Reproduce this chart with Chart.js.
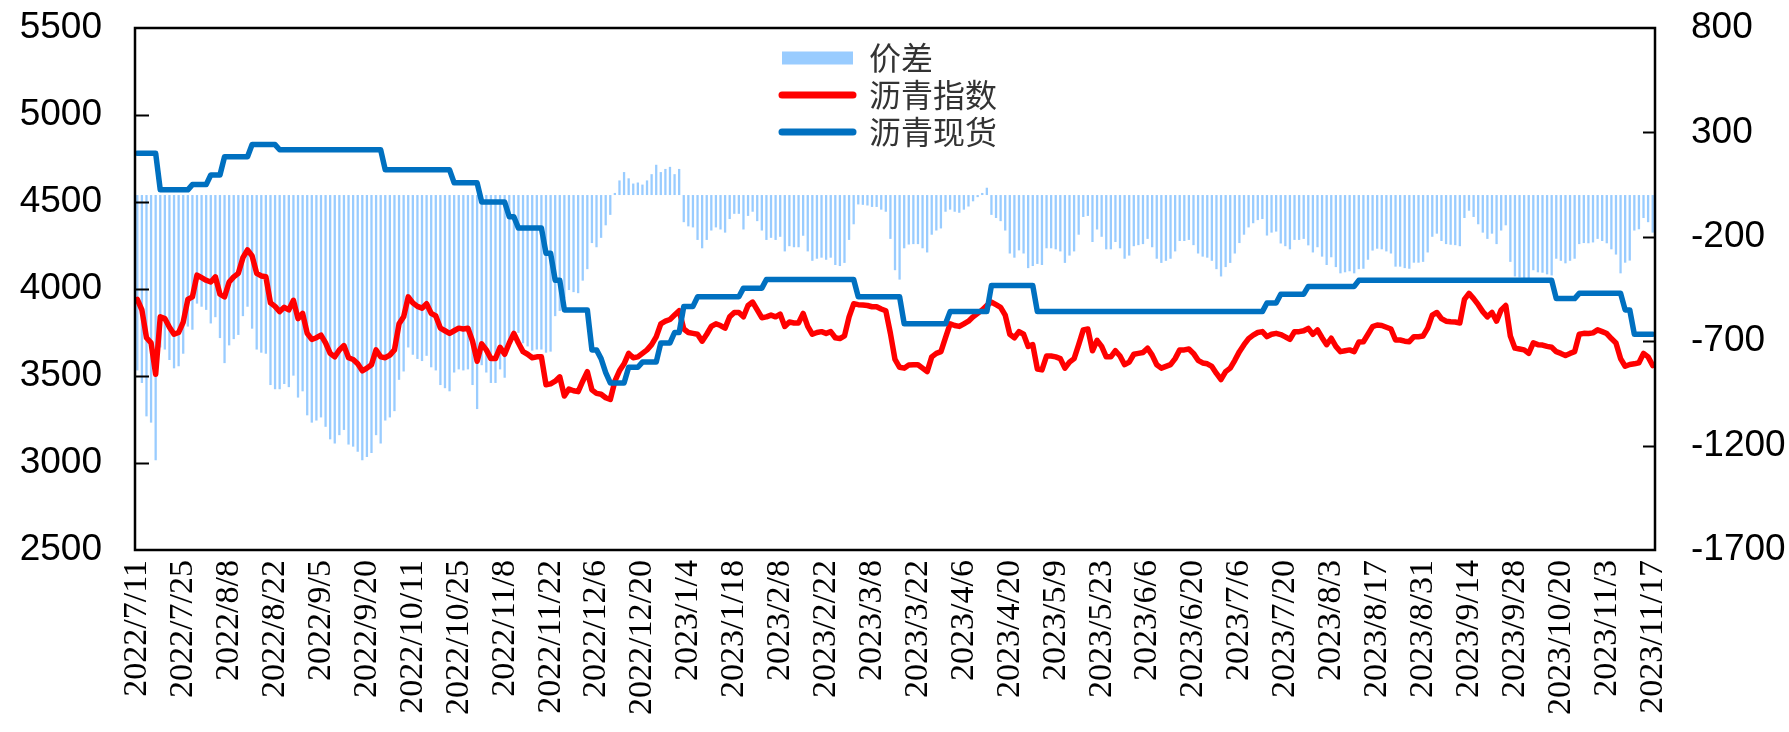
<!DOCTYPE html>
<html>
<head>
<meta charset="utf-8">
<script src="https://cdn.jsdelivr.net/npm/chart.js@4.4.0/dist/chart.umd.min.js"></script>
<style>
html,body{margin:0;padding:0;background:#fff;}
#wrap{width:1789px;height:732px;position:relative;}
</style>
</head>
<body>
<div id="wrap"><canvas id="c"></canvas></div>
<script>
// Tick labels: one every 10 trading days
const dateTicks = ['2022/7/11','2022/7/25','2022/8/8','2022/8/22','2022/9/5','2022/9/20','2022/10/11','2022/10/25','2022/11/8','2022/11/22','2022/12/6','2022/12/20','2023/1/4','2023/1/18','2023/2/8','2023/2/22','2023/3/8','2023/3/22','2023/4/6','2023/4/20','2023/5/9','2023/5/23','2023/6/6','2023/6/20','2023/7/6','2023/7/20','2023/8/3','2023/8/17','2023/8/31','2023/9/14','2023/9/28','2023/10/20','2023/11/3','2023/11/17'];
const TICK_EVERY = 10; // trading days between labelled ticks

const seriesNames = ['价差', '沥青指数', '沥青现货'];

// 沥青指数 (left axis), one value per trading day
const indexPrice = [
3940,3880,3720,3690,3510,3840,3830,3780,3740,3750,
3810,3940,3955,4080,4065,4050,4040,4070,3970,3955,
4040,4070,4090,4180,4225,4190,4090,4075,4070,3920,
3900,3870,3895,3880,3935,3830,3860,3745,3710,3720,
3735,3690,3630,3610,3650,3675,3605,3595,3570,3530,
3545,3565,3650,3610,3605,3620,3650,3800,3840,3955,
3920,3900,3890,3915,3860,3845,3775,3760,3745,3760,
3775,3770,3775,3700,3585,3685,3650,3600,3600,3665,
3625,3690,3745,3690,3640,3625,3605,3610,3610,3450,
3455,3470,3495,3385,3425,3415,3410,3470,3525,3420,
3400,3395,3375,3365,3470,3530,3570,3630,3605,3610,
3630,3650,3680,3725,3800,3815,3825,3850,3875,3770,
3750,3745,3740,3700,3740,3785,3800,3790,3775,3840,
3865,3865,3840,3905,3925,3880,3835,3840,3850,3840,
3855,3785,3810,3805,3805,3860,3785,3740,3750,3755,
3745,3755,3720,3715,3730,3840,3915,3910,3908,3905,
3898,3898,3885,3875,3745,3595,3550,3545,3563,3565,
3565,3545,3525,3610,3630,3640,3720,3800,3790,3785,
3800,3815,3840,3860,3880,3905,3925,3910,3895,3850,
3740,3720,3755,3740,3670,3680,3540,3535,3615,3615,
3610,3600,3545,3580,3600,3680,3765,3770,3645,3705,
3670,3610,3610,3645,3615,3565,3580,3625,3630,3635,
3660,3620,3565,3545,3555,3565,3600,3650,3650,3655,
3630,3590,3575,3570,3555,3515,3480,3525,3545,3590,
3640,3680,3715,3735,3750,3755,3726,3740,3745,3738,
3725,3710,3755,3755,3760,3774,3740,3765,3720,3680,
3717,3670,3640,3645,3650,3640,3695,3697,3740,3784,
3793,3790,3780,3770,3707,3707,3700,3697,3726,3726,
3730,3775,3850,3865,3830,3815,3812,3810,3805,3940,
3975,3945,3910,3870,3840,3865,3815,3880,3905,3730,
3660,3655,3650,3630,3690,3680,3678,3670,3665,3640,
3630,3618,3630,3640,3740,3745,3744,3748,3765,3755,
3744,3715,3690,3600,3556,3566,3570,3576,3630,3610,
3560
];

// 沥青现货 (left axis)
const spotPrice = [
4780,4780,4780,4780,4780,4570,4570,4570,4570,4570,
4570,4570,4600,4600,4600,4600,4655,4655,4655,4760,
4760,4760,4760,4760,4760,4830,4830,4830,4830,4830,
4830,4800,4800,4800,4800,4800,4800,4800,4800,4800,
4800,4800,4800,4800,4800,4800,4800,4800,4800,4800,
4800,4800,4800,4800,4685,4685,4685,4685,4685,4685,
4685,4685,4685,4685,4685,4685,4685,4685,4685,4610,
4610,4610,4610,4610,4610,4500,4500,4500,4500,4500,
4500,4415,4415,4350,4350,4350,4350,4350,4350,4205,
4205,4050,4050,3880,3880,3880,3880,3880,3880,3650,
3650,3600,3520,3460,3460,3460,3460,3550,3550,3550,
3580,3580,3580,3580,3690,3690,3690,3750,3750,3900,
3900,3900,3955,3955,3955,3955,3955,3955,3955,3955,
3955,3955,4005,4005,4005,4005,4005,4055,4055,4055,
4055,4055,4055,4055,4055,4055,4055,4055,4055,4055,
4055,4055,4055,4055,4055,4055,4055,3955,3955,3955,
3955,3955,3955,3955,3955,3955,3955,3800,3800,3800,
3800,3800,3800,3800,3800,3800,3800,3870,3870,3870,
3870,3870,3870,3870,3870,3870,4020,4020,4020,4020,
4020,4020,4020,4020,4020,4020,3870,3870,3870,3870,
3870,3870,3870,3870,3870,3870,3870,3870,3870,3870,
3870,3870,3870,3870,3870,3870,3870,3870,3870,3870,
3870,3870,3870,3870,3870,3870,3870,3870,3870,3870,
3870,3870,3870,3870,3870,3870,3870,3870,3870,3870,
3870,3870,3870,3870,3870,3870,3920,3920,3920,3970,
3970,3970,3970,3970,3970,4015,4015,4015,4015,4015,
4015,4015,4015,4015,4015,4015,4050,4050,4050,4050,
4050,4050,4050,4050,4050,4050,4050,4050,4050,4050,
4050,4050,4050,4050,4050,4050,4050,4050,4050,4050,
4050,4050,4050,4050,4050,4050,4050,4050,4050,4050,
4050,4050,4050,4050,4050,4050,4050,4050,4050,3945,
3945,3945,3945,3945,3975,3975,3975,3975,3975,3975,
3975,3975,3975,3975,3880,3880,3740,3740,3740,3740,
3740
];

// 价差 (right axis)
const spread = [
-840,-900,-1060,-1090,-1270,-730,-740,-790,-830,-820,
-760,-630,-645,-520,-535,-550,-615,-585,-685,-805,
-720,-690,-670,-580,-535,-640,-740,-755,-760,-910,
-930,-930,-905,-920,-865,-970,-940,-1055,-1090,-1080,
-1065,-1110,-1170,-1190,-1150,-1125,-1195,-1205,-1230,-1270,
-1255,-1235,-1150,-1190,-1080,-1065,-1035,-885,-845,-730,
-765,-785,-795,-770,-825,-840,-910,-925,-940,-850,
-835,-840,-835,-910,-1025,-815,-850,-900,-900,-835,
-875,-725,-670,-660,-710,-725,-745,-740,-740,-755,
-750,-580,-555,-495,-455,-465,-470,-410,-355,-230,
-250,-205,-145,-95,10,70,110,80,55,60,
50,70,100,145,110,125,135,100,125,-130,
-150,-155,-215,-255,-215,-170,-155,-165,-180,-115,
-90,-90,-165,-100,-80,-125,-170,-215,-205,-215,
-200,-270,-245,-250,-250,-195,-270,-315,-305,-300,
-310,-300,-335,-340,-325,-215,-140,-45,-47,-50,
-57,-57,-70,-80,-210,-360,-405,-255,-237,-235,
-235,-255,-275,-190,-170,-160,-80,-70,-80,-85,
-70,-55,-30,-10,10,35,-95,-110,-125,-170,
-280,-300,-265,-280,-350,-340,-330,-335,-255,-255,
-260,-270,-325,-290,-270,-190,-105,-100,-225,-165,
-200,-260,-260,-225,-255,-305,-290,-245,-240,-235,
-210,-250,-305,-325,-315,-305,-270,-220,-220,-215,
-240,-280,-295,-300,-315,-355,-390,-345,-325,-280,
-230,-190,-155,-135,-120,-115,-194,-180,-175,-232,
-245,-260,-215,-215,-210,-241,-275,-250,-295,-335,
-298,-345,-375,-370,-365,-375,-355,-353,-310,-266,
-257,-260,-270,-280,-343,-343,-350,-353,-324,-324,
-320,-275,-200,-185,-220,-235,-238,-240,-245,-110,
-75,-105,-140,-180,-210,-185,-235,-170,-145,-320,
-390,-395,-400,-420,-360,-370,-372,-380,-385,-305,
-315,-327,-315,-305,-235,-230,-231,-227,-210,-220,
-231,-260,-285,-375,-324,-314,-170,-164,-110,-130,
-180
];

const COLORS = { spread: '#99CCFF', index: '#FF0000', spot: '#0070C0' };

const toXY = arr => arr.map((v, i) => ({ x: i, y: v }));

// Frame around plot area and inward tick marks on both value axes
const frameAndTicks = {
  id: 'frameAndTicks',
  afterDraw(chart) {
    const { ctx, chartArea: a, scales } = chart;
    ctx.save();
    ctx.strokeStyle = '#000';
    ctx.lineWidth = 2;
    scales.y.ticks.forEach(t => {
      if (t.value <= scales.y.min || t.value >= scales.y.max) return;
      const p = Math.round(scales.y.getPixelForValue(t.value)) + 0.5;
      ctx.beginPath(); ctx.moveTo(a.left, p); ctx.lineTo(a.left + 14, p); ctx.stroke();
    });
    scales.y1.ticks.forEach(t => {
      if (t.value <= scales.y1.min || t.value >= scales.y1.max) return;
      const p = Math.round(scales.y1.getPixelForValue(t.value)) + 0.5;
      ctx.beginPath(); ctx.moveTo(a.right - 12, p); ctx.lineTo(a.right, p); ctx.stroke();
    });
    ctx.lineWidth = 2.5;
    ctx.strokeRect(a.left, a.top, a.right - a.left, a.bottom - a.top);
    ctx.restore();
  }
};

// Place the legend block inside the plot area, near the upper middle
const legendPlacer = {
  id: 'legendPlacer',
  beforeDraw(chart) {
    const lg = chart.legend;
    if (!lg) return;
    const w = lg.width;
    lg.left = 777; lg.right = 777 + w;
    lg.top = 37; lg.bottom = 37 + 200;
  }
};

const valueTickFont = { family: '"Liberation Sans", Arial, sans-serif', size: 37 };
const plainNumber = (v) => String(v);

new Chart(document.getElementById('c'), {
  type: 'bar',
  data: {
    datasets: [
      {
        type: 'line', label: seriesNames[2], data: toXY(spotPrice), yAxisID: 'y',
        borderColor: COLORS.spot, backgroundColor: COLORS.spot, borderWidth: 5.5,
        pointRadius: 0, tension: 0, borderJoinStyle: 'round', borderCapStyle: 'round'
      },
      {
        type: 'line', label: seriesNames[1], data: toXY(indexPrice), yAxisID: 'y',
        borderColor: COLORS.index, backgroundColor: COLORS.index, borderWidth: 5.5,
        pointRadius: 0, tension: 0, borderJoinStyle: 'round', borderCapStyle: 'round'
      },
      {
        type: 'bar', label: seriesNames[0], data: toXY(spread), yAxisID: 'y1',
        backgroundColor: COLORS.spread, borderWidth: 0,
        barPercentage: 0.5, categoryPercentage: 1.0
      }
    ]
  },
  options: {
    responsive: true,
    maintainAspectRatio: false,
    animation: false,
    devicePixelRatio: 1,
    layout: { padding: { top: 28, left: 0, right: 0, bottom: 0 } },
    plugins: {
      tooltip: { enabled: false },
      legend: {
        display: true,
        position: 'chartArea',
        align: 'start',
        labels: {
          usePointStyle: true,
          pointStyleWidth: 71,
          boxHeight: 13,
          padding: 5,
          color: '#333',
          font: { family: '"Noto Sans CJK SC", sans-serif', size: 32 },
          generateLabels(chart) {
            const ds = chart.data.datasets;
            return [
              { text: ds[2].label, fillStyle: COLORS.spread, strokeStyle: COLORS.spread, lineWidth: 0,
                pointStyle: 'rect', datasetIndex: 2, hidden: false, fontColor: '#333', textAlign: 'left' },
              { text: ds[1].label, fillStyle: COLORS.index, strokeStyle: COLORS.index, lineWidth: 7,
                lineCap: 'round', pointStyle: 'line', datasetIndex: 1, hidden: false, fontColor: '#333', textAlign: 'left' },
              { text: ds[0].label, fillStyle: COLORS.spot, strokeStyle: COLORS.spot, lineWidth: 7,
                lineCap: 'round', pointStyle: 'line', datasetIndex: 0, hidden: false, fontColor: '#333', textAlign: 'left' }
            ];
          }
        }
      }
    },
    scales: {
      x: {
        type: 'linear',
        min: -0.5,
        max: indexPrice.length - 0.5,
        bounds: 'data',
        offset: false,
        grid: { display: false, drawTicks: false, offset: false },
        border: { display: false },
        afterBuildTicks(s) { s.ticks = dateTicks.map((_, k) => ({ value: k * TICK_EVERY })); },
        afterFit(s) { s.height = 182; s.paddingLeft = 0; s.paddingRight = 0; },
        ticks: {
          autoSkip: false,
          minRotation: 90,
          maxRotation: 90,
          padding: 10,
          color: '#000',
          font: { family: '"Liberation Serif", "Times New Roman", "DejaVu Serif", serif', size: 34 },
          callback: (v) => dateTicks[Math.round(v / TICK_EVERY)]
        }
      },
      y: {
        position: 'left',
        min: 2500, max: 5500,
        grid: { display: false, drawTicks: false },
        border: { display: false },
        afterFit(s) { s.width = 135; s.paddingTop = 0; s.paddingBottom = 0; },
        ticks: { stepSize: 500, padding: 33, color: '#000', font: valueTickFont, callback: plainNumber }
      },
      y1: {
        position: 'right',
        min: -1700, max: 800,
        grid: { display: false, drawTicks: false },
        border: { display: false },
        afterFit(s) { s.width = 134; s.paddingTop = 0; s.paddingBottom = 0; },
        ticks: { stepSize: 500, padding: 36, color: '#000', font: valueTickFont, callback: plainNumber }
      }
    }
  },
  plugins: [legendPlacer, frameAndTicks]
});
</script>
</body>
</html>
